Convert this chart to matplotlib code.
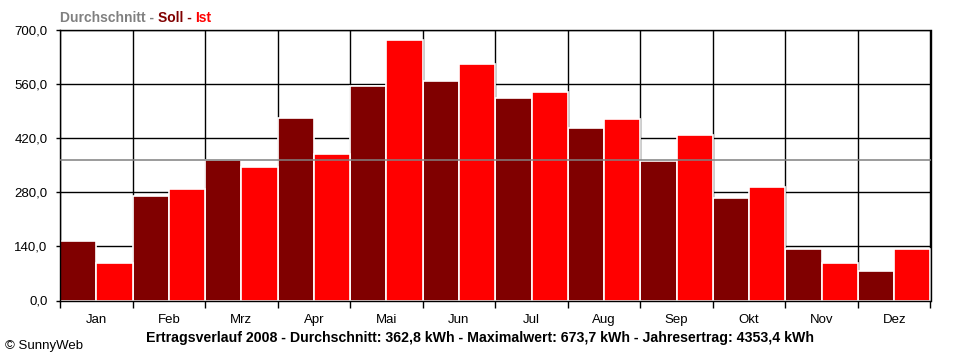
import numpy as np
import matplotlib.pyplot as plt

plt.rcParams['font.family'] = ['Liberation Sans', 'DejaVu Sans']

# Daten
monate = ['Jan', 'Feb', 'Mrz', 'Apr', 'Mai', 'Jun', 'Jul', 'Aug', 'Sep', 'Okt', 'Nov', 'Dez']
soll = [154, 270, 364, 473, 556, 569, 525, 447, 361, 265, 133, 76]
ist = [98, 288, 345, 378, 673.7, 612, 539, 469, 427, 293, 97, 133]
durchschnitt = 362.8
y_ticks = [0, 140, 280, 420, 560, 700]
titel = 'Ertragsverlauf 2008 - Durchschnitt: 362,8 kWh - Maximalwert: 673,7 kWh - Jahresertrag: 4353,4 kWh'

W, H = 960, 360
fig = plt.figure(figsize=(W / 100, H / 100), dpi=100)
ax = fig.add_axes([60 / W, 1 - 300.5 / H, 870.5 / W, 270.5 / H])

x = np.arange(len(monate))
ax.bar(x + 0.25, soll, width=0.5, color='#800000', edgecolor='white', linewidth=1.2, zorder=2)
ax.bar(x + 0.75, ist, width=0.5, color='#ff0000', edgecolor='white', linewidth=1.2, zorder=2)
ax.axhline(durchschnitt, color='#808080', lw=1.1, zorder=3)

ax.set_xlim(0, len(monate))
ax.set_ylim(0, 700)

# Gitter
ax.set_xticks(np.arange(len(monate) + 1))
ax.set_xticklabels([])
ax.set_xticks(x + 0.5, minor=True)
ax.set_xticklabels(monate, minor=True)
ax.tick_params(axis='x', which='major', length=5, width=1, direction='out', color='black')
ax.tick_params(axis='x', which='minor', length=0, pad=10, labelsize=9.5)
ax.set_yticks(y_ticks)
ax.set_yticklabels([f'{v:.1f}'.replace('.', ',') for v in y_ticks])
ax.tick_params(axis='y', length=3, width=1, pad=6, labelsize=9.5)
ax.grid(True, which='major', color='black', lw=1)
ax.set_axisbelow(True)
for s in ax.spines.values():
    s.set_color('black')
    s.set_linewidth(1)

# Legende oben links
fs = 10
fig.text(60 / W, 1 - 18 / H, 'Durchschnitt - ', color='#808080', fontsize=fs, fontweight='bold', va='center')
t1 = fig.text(0, 0, 'Durchschnitt - ', fontsize=fs, fontweight='bold')
fig.canvas.draw()
r = fig.canvas.get_renderer()
w1 = t1.get_window_extent(r).width
t1.remove()
fig.text((60 + w1) / W, 1 - 18 / H, 'Soll - ', color='#800000', fontsize=fs, fontweight='bold', va='center')
t2 = fig.text(0, 0, 'Soll - ', fontsize=fs, fontweight='bold')
fig.canvas.draw()
w2 = t2.get_window_extent(r).width
t2.remove()
fig.text((60 + w1 + w2) / W, 1 - 18 / H, 'Ist', color='#ff0000', fontsize=fs, fontweight='bold', va='center')

fig.text(480 / W, 1 - 338 / H, titel, fontsize=10.2, fontweight='bold', ha='center', va='center')
fig.text(5 / W, 1 - 346 / H, '© SunnyWeb', fontsize=9.5, va='center')

plt.savefig('out.png', dpi=100)
